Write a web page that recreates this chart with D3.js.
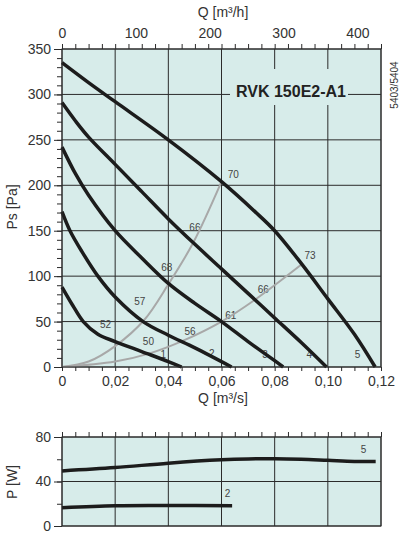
<!DOCTYPE html>
<html>
<head>
<meta charset="utf-8">
<script src="https://cdn.jsdelivr.net/npm/d3@7"></script>
<style>
  body { margin: 0; background: #fff; }
  svg text { font-family: "Liberation Sans", Arial, sans-serif; fill: #333; }
</style>
</head>
<body>
<div id="chart"></div>
<script>
// Fan curves, Q [m3/s] vs Ps [Pa]
const fan1 = [[0, 88], [0.004, 68], [0.008, 50], [0.0135, 36], [0.02, 28], [0.03, 17], [0.04, 6], [0.045, 0]];
const fan2 = [[0, 171], [0.003, 150], [0.0075, 127], [0.0135, 100], [0.02, 77], [0.0305, 50], [0.04, 35], [0.05, 21], [0.0638, 0]];
const fan3 = [[0, 242], [0.005, 213], [0.01, 189], [0.02, 150], [0.03, 120], [0.04, 92], [0.05, 70], [0.06, 50], [0.07, 28], [0.08, 7], [0.0832, 0]];
const fan4 = [[0, 291], [0.005, 271], [0.01, 253], [0.02, 223], [0.03, 193], [0.04, 163], [0.05, 135], [0.06, 108], [0.07, 81], [0.08, 54], [0.09, 27], [0.0995, 0]];
const fan5 = [[0, 335], [0.01, 313], [0.02, 292], [0.04, 250], [0.06, 204], [0.0726, 171], [0.08, 150], [0.09, 114], [0.1, 75], [0.11, 36], [0.1178, 0]];
// System (efficiency) curves
const sysA = [[0, 0], [0.01, 6], [0.02, 23], [0.031, 52], [0.04, 91], [0.0494, 137], [0.06, 204]];
const sysB = [[0, 0], [0.02, 6], [0.033, 15], [0.0456, 29], [0.06, 50], [0.0726, 74], [0.0902, 113]];
// Power curves, Q [m3/s] vs P [W]
const pow2 = [[0, 16.5], [0.02, 18.3], [0.04, 18.5], [0.064, 18.2]];
const pow5 = [[0, 49.5], [0.02, 52.5], [0.04, 56.5], [0.06, 59.5], [0.07, 60.3], [0.08, 60.5], [0.09, 60], [0.1, 59], [0.11, 58], [0.118, 58]];

const qTicks = [0, 0.02, 0.04, 0.06, 0.08, 0.1, 0.12];
const qhTicks = [0, 100, 200, 300, 400];
const psTicks = [0, 50, 100, 150, 200, 250, 300, 350];
const pTicks = [0, 40, 80];

// labels: text, Q, value
const psLabels = [
  ["70", 0.0644, 212], ["66", 0.0500, 154], ["68", 0.0394, 110], ["57", 0.0293, 72],
  ["52", 0.0164, 47], ["50", 0.0325, 28], ["56", 0.0482, 39], ["61", 0.0635, 57],
  ["66", 0.0757, 85], ["73", 0.0933, 123],
  ["1", 0.0381, 14], ["2", 0.0563, 15], ["3", 0.0764, 14], ["4", 0.0930, 14], ["5", 0.1112, 14]
];
const pLabels = [["5", 0.1134, 69], ["2", 0.0623, 29]];

const W = 404, H = 541;
const svg = d3.select("#chart").append("svg").attr("width", W).attr("height", H);

const left = 62, right = 381;
const x = d3.scaleLinear().domain([0, 0.12]).range([left, right]);
const xh = d3.scaleLinear().domain([0, 0.12 * 3600]).range([left, right]);
const y = d3.scaleLinear().domain([0, 350]).range([367, 49]);
const yp = d3.scaleLinear().domain([0, 80]).range([526, 437]);

const bg = "#d7ecea", ink = "#2b2b2b";
const minorQ = d3.range(0, 0.1201, 0.005);

function grid(g, ys, yVals, xVals) {
  g.append("rect")
    .attr("x", left).attr("y", ys.range()[1])
    .attr("width", right - left).attr("height", ys.range()[0] - ys.range()[1])
    .attr("fill", bg);
  g.selectAll(".gh").data(yVals).enter().append("line")
    .attr("x1", left).attr("x2", right)
    .attr("y1", d => ys(d)).attr("y2", d => ys(d))
    .attr("stroke", ink).attr("stroke-width", 1);
  g.selectAll(".gv").data(xVals).enter().append("line")
    .attr("x1", d => x(d)).attr("x2", d => x(d))
    .attr("y1", ys.range()[1]).attr("y2", ys.range()[0])
    .attr("stroke", ink).attr("stroke-width", 1);
}

function cleanAxis(sel) {
  sel.select(".domain").remove();
  sel.selectAll("line").attr("stroke", ink);
  sel.selectAll("text").style("font-size", "14px").attr("fill", "#333");
}

// ---------- main chart ----------
const main = svg.append("g");
grid(main, y, psTicks, qTicks);

// title with background box
main.append("rect").attr("x", 230).attr("y", 69).attr("width", 118).attr("height", 36).attr("fill", bg);
main.append("text").attr("x", 291).attr("y", 97)
  .attr("text-anchor", "middle").style("font-size", "16px").style("font-weight", "bold")
  .style("fill", "#222").text("RVK 150E2-A1");

// curve numbers sit under the curves
main.selectAll(".lbl").data(psLabels).enter().append("text")
  .attr("x", d => x(d[1])).attr("y", d => y(d[2])).attr("dy", "0.35em")
  .attr("text-anchor", "middle").style("font-size", "10px").style("fill", "#444")
  .text(d => d[0]);

const line = d3.line().x(d => x(d[0])).y(d => y(d[1])).curve(d3.curveCatmullRom.alpha(0.5));

[sysA, sysB].forEach(s => {
  main.append("path").datum(s).attr("d", line)
    .attr("fill", "none").attr("stroke", "#a8a8a8").attr("stroke-width", 2);
});
[fan1, fan2, fan3, fan4, fan5].forEach(s => {
  main.append("path").datum(s).attr("d", line)
    .attr("fill", "none").attr("stroke", "#1c1c1c").attr("stroke-width", 3.5);
});

main.append("rect").attr("x", left).attr("y", 49).attr("width", right - left).attr("height", 318)
  .attr("fill", "none").attr("stroke", ink).attr("stroke-width", 1);

// axes
main.append("g").attr("transform", "translate(0,49)")
  .call(d3.axisTop(x).tickValues(minorQ).tickSize(5).tickFormat(""))
  .call(cleanAxis);
main.append("g").attr("transform", "translate(0,49)")
  .call(d3.axisTop(xh).tickValues(qhTicks).tickSize(0).tickPadding(11))
  .call(cleanAxis);
main.append("g").attr("transform", "translate(0,367)")
  .call(d3.axisBottom(x).tickValues(minorQ).tickSize(4).tickFormat(""))
  .call(cleanAxis);
main.append("g").attr("transform", "translate(0,367)")
  .call(d3.axisBottom(x).tickValues(qTicks).tickSize(0).tickPadding(9)
    .tickFormat(d => d === 0 ? "0" : d3.format(".2f")(d).replace(".", ",")))
  .call(cleanAxis);
main.append("g").attr("transform", `translate(${left},0)`)
  .call(d3.axisLeft(y).tickValues(d3.range(0, 351, 10)).tickSize(5).tickFormat(""))
  .call(cleanAxis);
main.append("g").attr("transform", `translate(${left},0)`)
  .call(d3.axisLeft(y).tickValues(psTicks).tickSize(8).tickPadding(3))
  .call(cleanAxis);

main.append("text").attr("x", 223).attr("y", 17).attr("text-anchor", "middle")
  .style("font-size", "14px").text("Q [m³/h]");
main.append("text").attr("x", 223).attr("y", 403).attr("text-anchor", "middle")
  .style("font-size", "14px").text("Q [m³/s]");
main.append("text").attr("transform", "translate(17,207) rotate(-90)").attr("text-anchor", "middle")
  .style("font-size", "14px").text("Ps [Pa]");
main.append("text").attr("transform", "translate(398,85) rotate(-90)").attr("text-anchor", "middle")
  .style("font-size", "10px").text("5403/5404");

// ---------- power chart ----------
const pw = svg.append("g");
grid(pw, yp, pTicks, qTicks);

pw.selectAll(".lbl").data(pLabels).enter().append("text")
  .attr("x", d => x(d[1])).attr("y", d => yp(d[2])).attr("dy", "0.35em")
  .attr("text-anchor", "middle").style("font-size", "10px").style("fill", "#444")
  .text(d => d[0]);

const pline = d3.line().x(d => x(d[0])).y(d => yp(d[1])).curve(d3.curveCatmullRom.alpha(0.5));
[pow2, pow5].forEach(s => {
  pw.append("path").datum(s).attr("d", pline)
    .attr("fill", "none").attr("stroke", "#1c1c1c").attr("stroke-width", 3.5);
});

pw.append("rect").attr("x", left).attr("y", 437).attr("width", right - left).attr("height", 89)
  .attr("fill", "none").attr("stroke", ink).attr("stroke-width", 1);

pw.append("g").attr("transform", "translate(0,437)")
  .call(d3.axisTop(x).tickValues(minorQ).tickSize(5).tickFormat(""))
  .call(cleanAxis);
pw.append("g").attr("transform", `translate(${left},0)`)
  .call(d3.axisLeft(yp).tickValues(d3.range(0, 81, 20)).tickSize(5).tickFormat(""))
  .call(cleanAxis);
pw.append("g").attr("transform", `translate(${left},0)`)
  .call(d3.axisLeft(yp).tickValues(pTicks).tickSize(8).tickPadding(3))
  .call(cleanAxis);
pw.append("text").attr("transform", "translate(17,482) rotate(-90)").attr("text-anchor", "middle")
  .style("font-size", "14px").text("P [W]");
</script>
</body>
</html>
